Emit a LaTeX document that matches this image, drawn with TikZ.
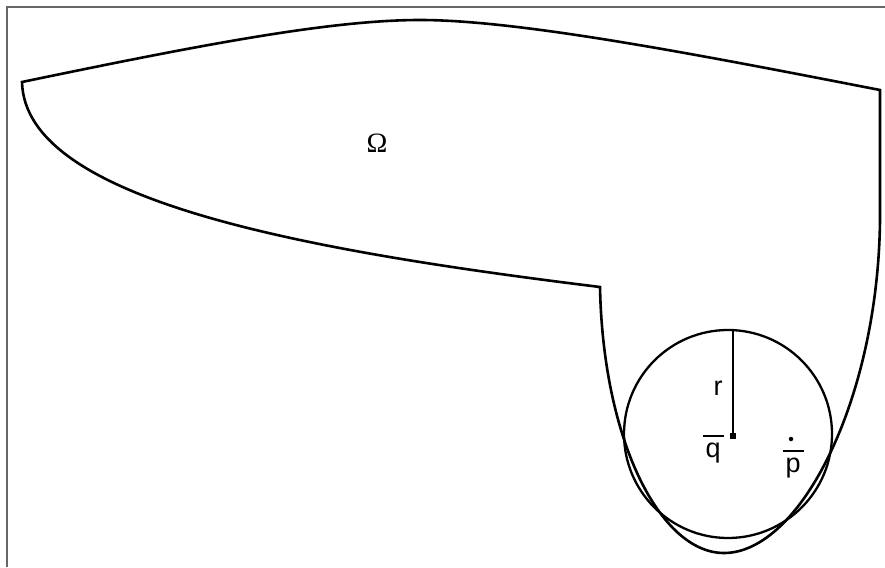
\documentclass[tikz,border=0pt]{standalone}
\usepackage{fontspec}
\setmainfont{Liberation Sans}
\newfontfamily\greekserif{Liberation Serif}
\newcommand\barred[1]{\vbox{\hrule height 1.8pt\kern 0.6pt\hbox{\kern 3pt\vphantom{l}#1\kern 3pt}}}

\begin{document}
\begin{tikzpicture}[x=1pt,y=-1pt,
  bdry/.style={line width=2.6pt},
  lbl/.style={anchor=base,inner sep=0pt,font=\fontsize{27}{30}\selectfont}]
\useasboundingbox (0,0) rectangle (885,567);
\draw[black!60, line width=1.5pt] (7,567) -- (7,7) -- (885,7);
% corners of the domain
\coordinate (tl) at (22,82);
\coordinate (tr) at (880,90);
\coordinate (nk) at (600,287);
\coordinate (bt) at (724,553);
\draw[bdry] (tl) .. controls (200,45) and (330,20) .. (420,20)
  .. controls (520,20) and (700,55) .. (tr)
  -- (880,220) .. controls (878,400) and (800,553) .. (bt)
  .. controls (660,553) and (603,440) .. (nk)
  .. controls (300,250) and (25,200) .. cycle;
% ball of radius r
\draw[line width=2.3pt] (728,434) circle[radius=104];
\node[fill, rectangle, minimum size=6pt, inner sep=0pt] (q) at (733,436) {};
\coordinate (qtop) at (733,331);
\draw[bdry] (q.center) -- (qtop);
\node[fill, circle, minimum size=4.5pt, inner sep=0pt] (p) at (791,439) {};
\node[lbl] (rlab) at (718,395) {r};
\node[lbl] (qlab) at (713,457) {\barred{q}};
\node[lbl] (plab) at (793,472) {\barred{p}};
\node[lbl, font=\fontsize{28}{30}\greekserif] (om) at (377,152) {Ω};
\end{tikzpicture}
\end{document}
